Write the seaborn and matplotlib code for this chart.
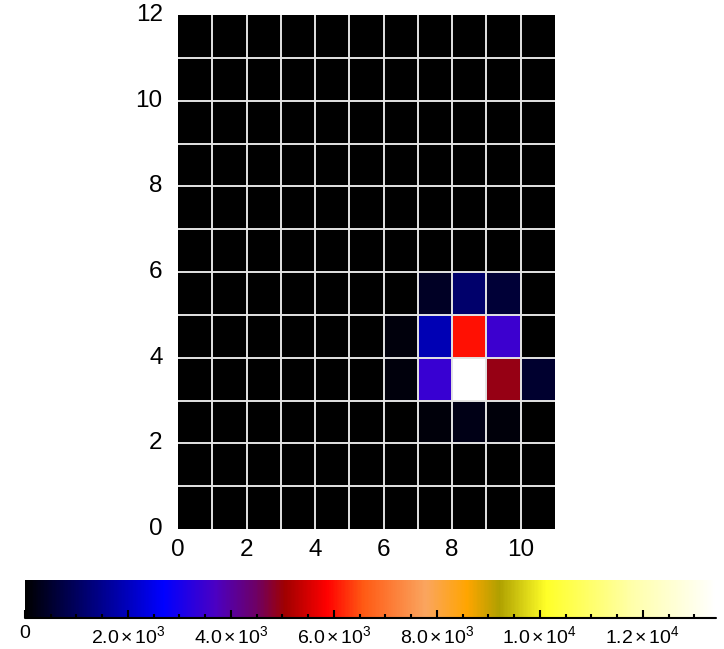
import numpy as np
import pandas as pd
import seaborn as sns
import matplotlib
matplotlib.use("Agg")
import matplotlib.pyplot as plt
from matplotlib.colors import LinearSegmentedColormap
from matplotlib.ticker import MultipleLocator, FuncFormatter

sns.set_theme(style="white")
plt.rcParams["font.family"] = ["Liberation Sans", "DejaVu Sans"]
plt.rcParams["mathtext.fontset"] = "custom"
plt.rcParams["mathtext.rm"] = "Liberation Sans"
plt.rcParams["mathtext.it"] = "Liberation Sans:italic"
plt.rcParams["mathtext.bf"] = "Liberation Sans:bold"
plt.rcParams["xtick.bottom"] = True
plt.rcParams["xtick.direction"] = "in"
plt.rcParams["xtick.color"] = "black"

# Cell counts, one list per row, bottom row (y = 0) first; columns x = 0..10
x_bins = list(range(11))
y_bins = list(range(12))
row_0 = [0, 0, 0, 0, 0, 0, 0, 0, 0, 0, 0]
row_1 = [0, 0, 0, 0, 0, 0, 0, 0, 0, 0, 0]
row_2 = [0, 0, 0, 0, 0, 0, 0, 120, 260, 120, 0]
row_3 = [0, 0, 0, 0, 0, 0, 150, 3450, 13420, 4950, 500]
row_4 = [0, 0, 0, 0, 0, 0, 150, 1900, 6000, 3500, 0]
row_5 = [0, 0, 0, 0, 0, 0, 0, 400, 1150, 600, 0]
row_6 = [0, 0, 0, 0, 0, 0, 0, 0, 0, 0, 0]
row_7 = [0, 0, 0, 0, 0, 0, 0, 0, 0, 0, 0]
row_8 = [0, 0, 0, 0, 0, 0, 0, 0, 0, 0, 0]
row_9 = [0, 0, 0, 0, 0, 0, 0, 0, 0, 0, 0]
row_10 = [0, 0, 0, 0, 0, 0, 0, 0, 0, 0, 0]
row_11 = [0, 0, 0, 0, 0, 0, 0, 0, 0, 0, 0]
rows = [row_0, row_1, row_2, row_3, row_4, row_5, row_6,
        row_7, row_8, row_9, row_10, row_11]

x_ticks = [0, 2, 4, 6, 8, 10]
y_ticks = [0, 2, 4, 6, 8, 10, 12]
cbar_ticks = [0, 2000, 4000, 6000, 8000, 10000, 12000]
vmax = 13420

# Dark-to-white palette: black, blue, purple, red, orange, olive, yellow, white
stops = [
    (0.000, (0, 0, 0)),
    (0.200, (0, 0, 255)),
    (0.275, (75, 0, 195)),
    (0.335, (110, 0, 100)),
    (0.376, (160, 0, 0)),
    (0.437, (255, 0, 0)),
    (0.490, (255, 90, 20)),
    (0.580, (250, 165, 95)),
    (0.640, (255, 165, 0)),
    (0.687, (175, 160, 0)),
    (0.755, (255, 255, 40)),
    (0.880, (255, 255, 170)),
    (1.000, (255, 255, 255)),
]
cmap = LinearSegmentedColormap.from_list(
    "density", [(p, tuple(c / 255 for c in rgb)) for p, rgb in stops], N=512)

df = pd.DataFrame(rows, index=y_bins, columns=x_bins)

fig = plt.figure(figsize=(7.24, 6.49), dpi=100)
ax = fig.add_axes([178 / 724, 120 / 649, 377 / 724, 514 / 649])
cax = fig.add_axes([25 / 724, 31 / 649, 691 / 724, 38 / 649])

sns.heatmap(df, ax=ax, cmap=cmap, vmin=0, vmax=vmax, linewidths=0,
            cbar=True, cbar_ax=cax, cbar_kws={"orientation": "horizontal"},
            square=False)

ax.set_ylim(0, 12)
ax.set_xlim(0, 11)
for xv in range(1, 11):
    ax.axvline(xv, color="#e4e4e4", lw=1.4)
for yv in range(1, 12):
    ax.axhline(yv, color="#e4e4e4", lw=1.4)

ax.set_xticks(x_ticks)
ax.set_xticklabels([str(t) for t in x_ticks], rotation=0)
ax.set_yticks(y_ticks)
ax.set_yticklabels([str(t) for t in y_ticks], rotation=0)
ax.tick_params(axis="both", which="both", length=0, labelsize=17.5,
               colors="black")
ax.tick_params(axis="x", pad=7)
ax.tick_params(axis="y", pad=11)
ax.set_xlabel("")
ax.set_ylabel("")
for s in ax.spines.values():
    s.set_visible(False)


def sci_label(v, pos):
    if v == 0:
        return "0"
    exp = int(np.floor(np.log10(v)))
    mant = v / 10 ** exp
    return f"{mant:.1f}$\\,$×$\\,$10$^{{{exp}}}$"


cbar = ax.collections[0].colorbar
cbar.set_ticks(cbar_ticks)
cbar.ax.xaxis.set_major_formatter(FuncFormatter(sci_label))
cbar.ax.xaxis.set_minor_locator(MultipleLocator(500))
cbar.outline.set_visible(False)
cax.tick_params(axis="x", which="major", direction="in", length=6, width=1.5,
                labelsize=14, pad=5, color="black", labelcolor="black",
                bottom=True, top=False)
cax.tick_params(axis="x", which="minor", direction="in", length=3, width=1.5,
                color="black", bottom=True, top=False)
cax.axhline(0, color="black", lw=1.5, clip_on=False, zorder=6)
cax.xaxis.set_zorder(10)

fig.savefig("out.png", dpi=100, facecolor="white")
